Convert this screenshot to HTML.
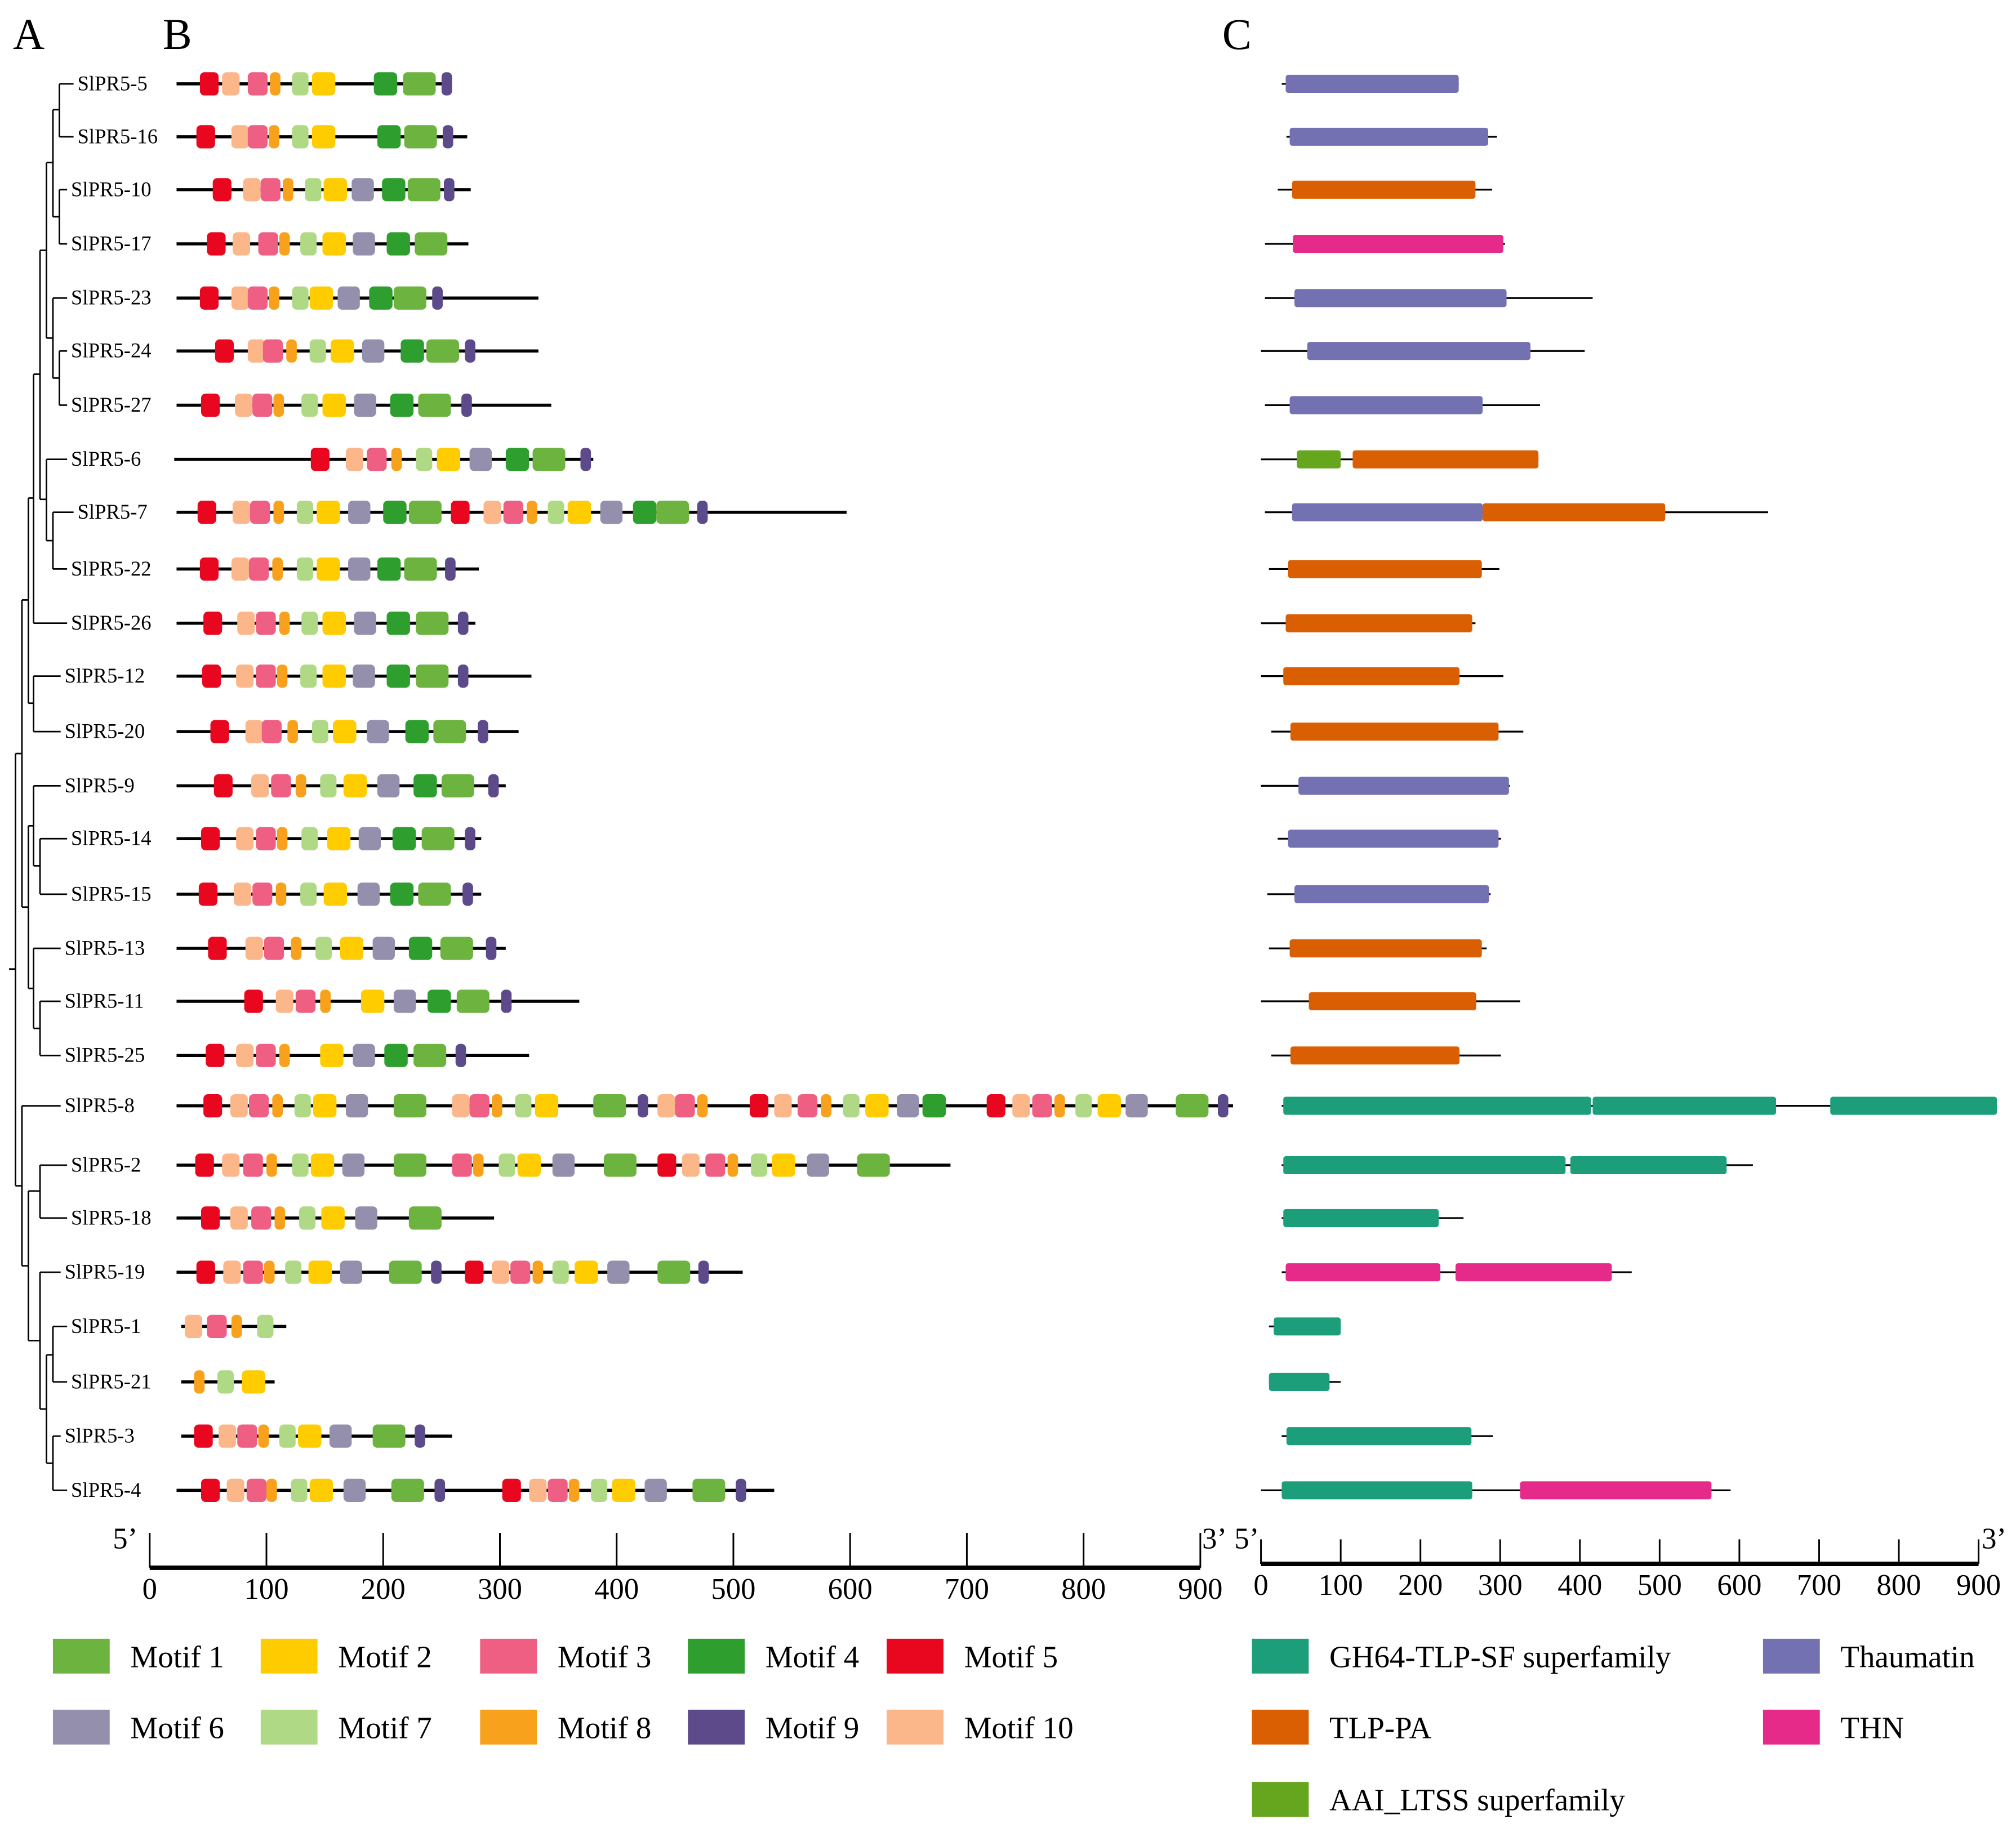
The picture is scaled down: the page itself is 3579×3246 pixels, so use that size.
<!DOCTYPE html>
<html><head><meta charset="utf-8"><style>html,body{margin:0;padding:0;background:#fff}svg{display:block}</style></head>
<body>
<svg id="chart" xmlns="http://www.w3.org/2000/svg" width="3579" height="3246" viewBox="0 0 1562 1416.7" preserveAspectRatio="none" font-family="'Liberation Serif', serif">
<rect width="1562" height="1416.7" fill="#fff"/>
<text x="10" y="38" font-size="34">A</text>
<text x="126" y="38" font-size="34">B</text>
<text x="947" y="38" font-size="34">C</text>
<g id="tree"></g><g id="panelB"></g><g id="panelC"></g><g id="axes"></g><g id="legend"></g>
</svg>
<script>
const genes = ["SlPR5-5","SlPR5-16","SlPR5-10","SlPR5-17","SlPR5-23","SlPR5-24","SlPR5-27","SlPR5-6","SlPR5-7","SlPR5-22","SlPR5-26","SlPR5-12","SlPR5-20","SlPR5-9","SlPR5-14","SlPR5-15","SlPR5-13","SlPR5-11","SlPR5-25","SlPR5-8","SlPR5-2","SlPR5-18","SlPR5-19","SlPR5-1","SlPR5-21","SlPR5-3","SlPR5-4"];
const geneLen = [[23,259],[23,272],[23,275],[23,273],[23,333],[23,333],[23,344],[21,380],[23,597],[23,282],[23,279],[23,327],[23,316],[23,305],[23,284],[23,284],[23,305],[23,368],[23,325],[23,928],[23,686],[23,295],[23,508],[27,117],[27,107],[27,259],[23,535]];
const motifWidth = {1:28,2:20,3:17,4:20,5:16,6:19,7:14,8:9,9:9,10:15};
const motifColor = {1:"#6db33f",2:"#ffcc00",3:"#ef5f84",4:"#2e9e2e",5:"#e8071f",6:"#948fad",7:"#b0d986",8:"#f7a11c",9:"#5c4a8a",10:"#fbb78a"};
const motifs = [
[[5,43],[10,62],[3,84],[8,103],[7,122],[2,139],[4,192],[1,217],[9,250]],
[[5,40],[10,70],[3,84],[8,102],[7,122],[2,139],[4,195],[1,218],[9,251]],
[[5,54],[10,80],[3,95],[8,114],[7,133],[2,149],[6,173],[4,199],[1,221],[9,252]],
[[5,49],[10,71],[3,93],[8,111],[7,129],[2,148],[6,174],[4,203],[1,227]],
[[5,43],[10,70],[3,84],[8,102],[7,122],[2,137],[6,161],[4,188],[1,209],[9,242]],
[[5,56],[10,84],[3,97],[8,117],[7,137],[2,155],[6,182],[4,215],[1,237],[9,270]],
[[5,44],[10,73],[3,88],[8,106],[7,130],[2,148],[6,175],[4,206],[1,230],[9,267]],
[[5,138],[10,168],[3,186],[8,207],[7,228],[2,246],[6,274],[4,305],[1,328],[9,369]],
[[5,41],[10,71],[3,86],[8,106],[7,126],[2,143],[6,170],[4,200],[1,222],[5,258],[10,286],[3,303],[8,323],[7,341],[2,358],[6,386],[4,414],[1,434],[9,469]],
[[5,43],[10,70],[3,85],[8,105],[7,126],[2,143],[6,170],[4,195],[1,218],[9,253]],
[[5,46],[10,75],[3,91],[8,111],[7,130],[2,148],[6,175],[4,203],[1,228],[9,264]],
[[5,45],[10,74],[3,91],[8,109],[7,129],[2,148],[6,174],[4,203],[1,228],[9,264]],
[[5,52],[10,82],[3,96],[8,118],[7,139],[2,157],[6,186],[4,219],[1,243],[9,281]],
[[5,55],[10,87],[3,104],[8,125],[7,146],[2,166],[6,195],[4,226],[1,250],[9,290]],
[[5,44],[10,74],[3,91],[8,109],[7,130],[2,152],[6,179],[4,208],[1,233],[9,270]],
[[5,42],[10,72],[3,88],[8,108],[7,129],[2,149],[6,178],[4,206],[1,230],[9,268]],
[[5,50],[10,82],[3,98],[8,121],[7,142],[2,163],[6,191],[4,222],[1,249],[9,288]],
[[5,81],[10,108],[3,125],[8,146],[2,181],[6,209],[4,238],[1,263],[9,301]],
[[5,48],[10,74],[3,91],[8,111],[2,146],[6,174],[4,201],[1,226],[9,262]],
[[5,46],[10,69],[3,85],[8,105],[7,124],[2,140],[6,168],[1,209],[10,259],[3,274],[8,293],[7,313],[2,330],[1,380],[9,418],[10,435],[3,450],[8,469],[5,514],[10,535],[3,555],[8,575],[7,594],[2,613],[6,640],[4,662],[5,717],[10,739],[3,756],[8,775],[7,793],[2,812],[6,836],[1,879],[9,915]],
[[5,39],[10,62],[3,80],[8,100],[7,122],[2,138],[6,165],[1,209],[3,259],[8,277],[7,299],[2,315],[6,345],[1,389],[5,435],[10,456],[3,476],[8,495],[7,515],[2,533],[6,563],[1,606]],
[[5,44],[10,69],[3,87],[8,107],[7,128],[2,147],[6,176],[1,222]],
[[5,40],[10,63],[3,80],[8,98],[7,116],[2,136],[6,163],[1,205],[9,241],[5,270],[10,293],[3,309],[8,328],[7,345],[2,364],[6,392],[1,435],[9,470]],
[[10,30],[3,49],[8,70],[7,92]],
[[8,38],[7,58],[2,79]],
[[5,38],[10,59],[3,75],[8,93],[7,111],[2,127],[6,154],[1,191],[9,227]],
[[5,44],[10,66],[3,83],[8,100],[7,121],[2,137],[6,166],[1,207],[9,244],[5,302],[10,325],[3,341],[8,359],[7,378],[2,396],[6,424],[1,465],[9,502]]
];
const protLen = [[26,248],[32,296],[21,290],[5,306],[5,416],[0,406],[5,350],[0,348],[5,636],[10,299],[0,269],[0,304],[13,329],[0,312],[21,301],[8,288],[10,283],[0,325],[13,301],[26,923],[26,617],[26,254],[26,465],[10,100],[10,100],[26,291],[0,589]];
const domainColor = {G:"#1c9e7a",T:"#7471b3",P:"#d95f02",H:"#e62a8a",A:"#66a61e"};
const domains = [
[["T",31,248]],[["T",36,285]],[["P",39,269]],[["H",40,304]],[["T",42,308]],[["T",58,338]],[["T",36,278]],
[["A",45,100],["P",115,348]],[["T",39,278],["P",278,507]],[["P",34,277]],[["P",31,265]],[["P",28,249]],[["P",37,298]],
[["T",47,311]],[["T",34,298]],[["T",42,286]],[["P",36,277]],[["P",60,270]],[["P",37,249]],
[["G",28,414],["G",416,646],["G",714,923]],[["G",28,382],["G",388,584]],[["G",28,223]],[["H",31,225],["H",244,440]],
[["G",16,100]],[["G",10,86]],[["G",32,264]],[["G",26,265],["H",325,565]]
];
const rowY = [65,106,147,189,231,272,314,356,397,441,483,524,567,609,650,693,735,776,818,857,903,944,986,1028,1071,1113,1155];
const labelX = [60,60,55,55,55,55,55,55,60,55,55,50,50,50,55,55,50,50,50,50,55,55,50,55,55,50,55];
const ticks = [0,100,200,300,400,500,600,700,800,900];

const NS="http://www.w3.org/2000/svg";
function mk(tag,attrs,parent){const e=document.createElementNS(NS,tag);for(const k in attrs)e.setAttribute(k,attrs[k]);parent.appendChild(e);return e;}
const xB=u=>116+u*814/900, xC=u=>977+u*556/900;
const gB=document.getElementById('panelB'), gC=document.getElementById('panelC'), gT=document.getElementById('tree'), gA=document.getElementById('axes'), gL=document.getElementById('legend');

genes.forEach((g,i)=>{
  const y=rowY[i];
  const t=mk('text',{x:labelX[i],y:y+5,'font-size':16},gT);t.textContent=g;
  
  
  const ln=mk('line',{x1:xB(geneLen[i][0]),x2:xB(geneLen[i][1]),y1:y,y2:y,stroke:'#000','stroke-width':2.4},gB);
  
  
  motifs[i].forEach(([m,s])=>{
    const r=mk('rect',{x:xB(s),y:y-9,width:motifWidth[m]*814/900,height:18,rx:3.5,fill:motifColor[m]},gB);
    
    
  });
  const lc=mk('line',{x1:xC(protLen[i][0]),x2:xC(protLen[i][1]),y1:y,y2:y,stroke:'#000','stroke-width':1.4},gC);
  
  
  domains[i].forEach(([d,s,e])=>{
    const r=mk('rect',{x:xC(s),y:y-7,width:xC(e)-xC(s),height:14,rx:2,fill:domainColor[d]},gC);
    
    
  });
});

const treeLines=[
[46,65,46,106],[41,85,46,85],[46,147,46,189],[41,168,46,168],[41,85,41,168],
[46,272,46,314],[41,293,46,293],[41,231,41,293],[36,126,41,126],[36,262,41,262],[36,126,36,262],
[41,397,41,441],[36,419,41,419],[36,356,36,419],[31,194,36,194],[31,387,36,387],[31,194,31,387],
[26,290,31,290],[26,290,26,483],[22,386,26,386],
[26,524,26,567],[22,545,26,545],[22,386,22,545],[17,465,22,465],
[31,650,31,693],[26,671,31,671],[26,609,26,671],[31,776,31,818],[26,797,31,797],[26,735,26,797],[22,640,26,640],[22,766,26,766],[22,640,22,766],[17,703,22,703],[17,465,17,703],[12,584,17,584],
[31,903,31,944],[22,923,31,923],[41,1028,41,1071],[36,1050,41,1050],[41,1113,41,1155],[36,1134,41,1134],[36,1050,36,1134],[31,1092,36,1092],[31,986,31,1092],[26,1039,31,1039],[22,1039,26,1039],[22,923,22,1039],[17,981,22,981],[17,857,17,981],[12,919,17,919],[12,584,12,919],[7,751,12,751]
];
const leafX=[46,46,46,46,41,46,46,36,41,41,26,26,26,26,31,31,26,31,31,17,31,31,31,41,41,41,41];
treeLines.forEach(l=>{const e=mk('line',{x1:l[0],y1:l[1],x2:l[2],y2:l[3],stroke:'#000','stroke-width':1.2},gT);

});
rowY.forEach((y,i)=>{const e=mk('line',{x1:leafX[i],y1:y,x2:labelX[i]-3,y2:y,stroke:'#000','stroke-width':1.2},gT);

});

function axis(fx,y0,tickTop,labY,name){
  const b=mk('line',{x1:fx(0),x2:fx(900),y1:y0,y2:y0,stroke:'#000','stroke-width':3.5},gA);
  
  
  ticks.forEach(t=>{
    const tk=mk('line',{x1:fx(t),x2:fx(t),y1:y0,y2:tickTop,stroke:'#000','stroke-width':1.3},gA);
    
    
    const tx=mk('text',{x:fx(t),y:labY,'font-size':23,'text-anchor':'middle'},gA);tx.textContent=t;
    
    
  });
}
axis(xB,1215,1188,1239,'x-axis-b');
axis(xC,1212,1193,1236,'x-axis-c');
[[97,1200,"5’"],[941,1200,"3’"],[966,1200,"5’"],[1545,1200,"3’"]].forEach(([x,y,s])=>{
  const t=mk('text',{x:x,y:y,'font-size':23,'text-anchor':'middle'},gA);t.textContent=s;
  
  
});

const legItems=[
[41,1270,"#6db33f","Motif 1"],[202,1270,"#ffcc00","Motif 2"],[372,1270,"#ef5f84","Motif 3"],[533,1270,"#2e9e2e","Motif 4"],[687,1270,"#e8071f","Motif 5"],
[41,1325,"#948fad","Motif 6"],[202,1325,"#b0d986","Motif 7"],[372,1325,"#f7a11c","Motif 8"],[533,1325,"#5c4a8a","Motif 9"],[687,1325,"#fbb78a","Motif 10"],
[970,1270,"#1c9e7a","GH64-TLP-SF superfamily"],[1366,1270,"#7471b3","Thaumatin"],
[970,1325,"#d95f02","TLP-PA"],[1366,1325,"#e62a8a","THN"],
[970,1381,"#66a61e","AAI_LTSS superfamily"]
];
legItems.forEach(([x,y,c,s])=>{
  const g=mk('g',{},gL);
  
  
  mk('rect',{x:x,y:y,width:44,height:27,fill:c},g);
  const t=mk('text',{x:x+60,y:y+22,'font-size':24},g);t.textContent=s;
});
</script>
</body></html>
